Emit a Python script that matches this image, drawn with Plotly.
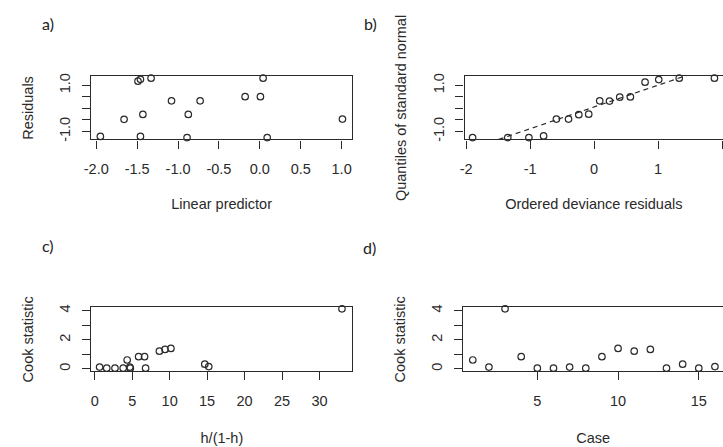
import plotly.graph_objects as go

# ---- data ----
# a) residuals vs linear predictor
lin_pred = [-1.95, -1.66, -1.49, -1.46, -1.33, -1.43, -1.46, -1.08, -0.875, -0.89, -0.73, -0.18, 0.007, 0.04, 0.09, 1.01]
residuals = [-1.21, -0.47, 1.18, 1.26, 1.31, -0.26, -1.21, 0.33, -0.26, -1.26, 0.33, 0.51, 0.51, 1.31, -1.26, -0.46]

# b) QQ plot
ordered_dev_resid = [-1.90, -1.35, -1.02, -0.79, -0.59, -0.40, -0.24, -0.085, 0.087, 0.24, 0.40, 0.566, 0.796, 1.01, 1.33, 1.88]
normal_quantiles = [-1.26, -1.26, -1.26, -1.19, -0.46, -0.46, -0.27, -0.25, 0.33, 0.32, 0.49, 0.50, 1.14, 1.25, 1.31, 1.31]
qq_intercept = 0.065
qq_slope = 0.943

# c) Cook statistic vs h/(1-h)
leverage_ratio = [0.65, 1.6, 2.7, 3.8, 4.33, 4.68, 4.75, 5.86, 6.65, 6.79, 8.63, 9.38, 10.17, 14.69, 15.22, 33.0]
cook_c = [0.12, 0.05, 0.05, 0.05, 0.61, 0.12, 0.05, 0.84, 0.84, 0.05, 1.22, 1.34, 1.41, 0.32, 0.16, 4.13]

# d) Cook statistic vs case
cases = list(range(1, 17))
cook_d = [0.61, 0.12, 4.13, 0.84, 0.05, 0.05, 0.12, 0.05, 0.84, 1.41, 1.22, 1.34, 0.05, 0.32, 0.05, 0.16]

# tick definitions
a_xticks = [-2.0, -1.5, -1.0, -0.5, 0.0, 0.5, 1.0]
a_xtext = ["-2.0", "-1.5", "-1.0", "-0.5", "0.0", "0.5", "1.0"]
res_yticks = [-1.0, -0.5, 0.0, 0.5, 1.0]
res_ytext = ["-1.0", "", "", "", "1.0"]
b_xticks = [-2, -1, 0, 1, 2]
c_xticks = [0, 5, 10, 15, 20, 25, 30]
cook_yticks = [0, 1, 2, 3, 4]
cook_ytext = ["0", "", "2", "", "4"]
d_xticks = [5, 10, 15]

W, H = 723, 447
INK = "#2a2a2a"
FONT = "Liberation Sans, Arial, sans-serif"
FS = 14.5

marker = dict(symbol="circle-open", size=6.5, color=INK, line=dict(width=1.2, color=INK))

fig = go.Figure()
fig.add_trace(go.Scatter(x=lin_pred, y=residuals, mode="markers", marker=marker,
                         xaxis="x", yaxis="y", cliponaxis=False))
fig.add_trace(go.Scatter(x=ordered_dev_resid, y=normal_quantiles, mode="markers", marker=marker,
                         xaxis="x2", yaxis="y2", cliponaxis=False))
b_range = [-2.025, 2.014]
fig.add_trace(go.Scatter(x=b_range, y=[qq_intercept + qq_slope * v for v in b_range], mode="lines",
                         line=dict(color=INK, width=1.2, dash="5px,4px"),
                         xaxis="x2", yaxis="y2"))
fig.add_trace(go.Scatter(x=leverage_ratio, y=cook_c, mode="markers", marker=marker,
                         xaxis="x3", yaxis="y3", cliponaxis=False))
fig.add_trace(go.Scatter(x=cases, y=cook_d, mode="markers", marker=marker,
                         xaxis="x4", yaxis="y4", cliponaxis=False))


def xax(domain, rng, tickvals, ticktext, title, anchor, mirror=True, standoff=22):
    return dict(domain=domain, range=rng, anchor=anchor, tickmode="array",
                tickvals=tickvals, ticktext=ticktext, ticks="outside", ticklen=8,
                tickwidth=1.2, tickcolor=INK, showline=True, linecolor=INK, linewidth=1.3,
                mirror=mirror, showgrid=False, zeroline=False, ticklabelstandoff=8,
                tickfont=dict(family=FONT, size=FS, color=INK),
                title=dict(text=title, standoff=standoff, font=dict(family=FONT, size=FS, color=INK)))


def yax(domain, rng, tickvals, ticktext, title, anchor, mirror=True):
    return dict(domain=domain, range=rng, anchor=anchor, tickmode="array",
                tickvals=tickvals, ticktext=ticktext, ticks="outside", ticklen=8,
                tickwidth=1.2, tickcolor=INK, showline=True, linecolor=INK, linewidth=1.3,
                mirror=mirror, showgrid=False, zeroline=False, tickangle=-90,
                ticklabelstandoff=6,
                tickfont=dict(family=FONT, size=FS, color=INK),
                title=dict(text=title, standoff=20, font=dict(family=FONT, size=FS, color=INK)))


top_dom = [1 - 138 / H, 1 - 74.3 / H]
bot_dom = [1 - 372.5 / H, 1 - 307.7 / H]
left_dom = [84.3 / W, 347.7 / W]
right_dom = [461.7 / W, 1.0]

fig.update_layout(
    width=W, height=H, margin=dict(l=0, r=0, t=0, b=0),
    paper_bgcolor="white", plot_bgcolor="white", showlegend=False,
    xaxis=xax(left_dom, [-2.06, 1.125], a_xticks, a_xtext, "Linear predictor", "y"),
    yaxis=yax(top_dom, [-1.343, 1.385], res_yticks, res_ytext, "Residuals", "x"),
    xaxis2=xax(right_dom, b_range, b_xticks, [str(v) for v in b_xticks], "Ordered deviance residuals", "y2"),
    yaxis2=yax(top_dom, [-1.343, 1.385], res_yticks, res_ytext, "Quantiles of standard normal", "x2", mirror=False),
    xaxis3=xax([84.3 / W, 348.3 / W], [-0.45, 34.4], c_xticks, [str(v) for v in c_xticks], "h/(1-h)", "y3", standoff=24),
    yaxis3=yax(bot_dom, [-0.17, 4.24], cook_yticks, cook_ytext, "Cook statistic", "x3"),
    xaxis4=xax([460.5 / W, 1.0], [0.42, 16.5], d_xticks, [str(v) for v in d_xticks], "Case", "y4", standoff=24),
    yaxis4=yax(bot_dom, [-0.17, 4.24], cook_yticks, cook_ytext, "Cook statistic", "x4", mirror=False),
)

panel_labels = [("a)", 40, 21), ("b)", 367, 21), ("c)", 40, 245), ("d)", 366, 247)]
for txt, px, py in panel_labels:
    fig.add_annotation(text=txt, x=px / W, y=1 - py / H, xref="paper", yref="paper",
                       showarrow=False, xanchor="center", yanchor="middle",
                       font=dict(family="Lato, Open Sans, sans-serif", size=16, color="#222"))

fig.write_html("out.html", config={"displayModeBar": False},
               post_script="document.body.style.margin='0';document.body.style.overflow='hidden';")
